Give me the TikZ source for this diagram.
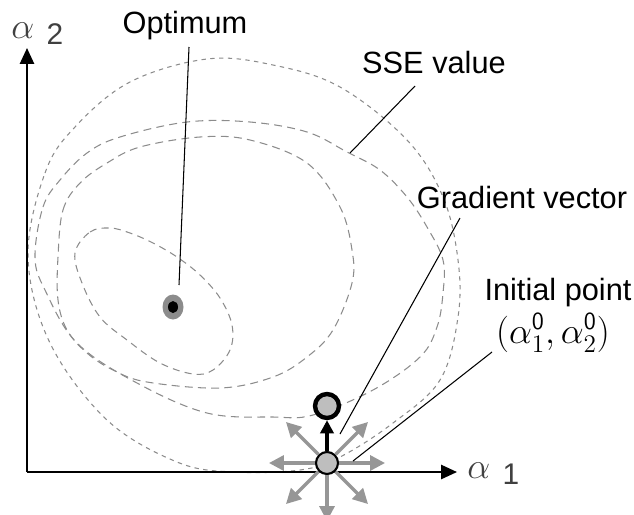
\documentclass[tikz,border=0pt]{standalone}
\usepackage{fontspec}
\setmainfont{Liberation Sans}
\usepackage{amsmath}
\usetikzlibrary{arrows.meta}
\definecolor{levelgray}{RGB}{140,140,140}
\definecolor{probegray}{RGB}{150,150,150}
\definecolor{pointgray}{RGB}{190,190,190}

\begin{document}
\begin{tikzpicture}[x=0.02cm, y=-0.02cm,
    lbl/.style={font=\fontsize{17.5}{20}\selectfont, inner sep=0pt},
    axislbl/.style={font=\fontsize{22}{24}\selectfont, inner sep=0pt, text=black!75},
    leader/.style={black, line width=0.6pt},
    level/.style={levelgray, line width=0.6pt},
    axis/.style={black, line width=1.2pt, -{Triangle[length=9pt,width=8pt]}},
    probe/.style={probegray, line width=1.9pt, -{Triangle[length=8.5pt,width=8.5pt]}},
    grad/.style={black, line width=2.6pt, -{Triangle[length=7.5pt,width=7.5pt]}},
    pointnode/.style={circle, fill=pointgray, draw=black, inner sep=0pt}
]
    \useasboundingbox (0,0) rectangle (634,514);

    % SSE level curves
    \draw[level, dash pattern=on 2.5pt off 2.5pt] plot[smooth cycle, tension=0.6] coordinates {
        (28,257) (45,173) (75,127) (130,82) (207,59) (273,65) (340,87) (407,140)
        (443,197) (458,260) (458,317) (440,380) (393,423) (340,457) (300,470)
        (233,472) (177,462) (107,420) (50,343)};
    \draw[level, dash pattern=on 4.5pt off 3pt] plot[smooth cycle, tension=0.6] coordinates {
        (35,257) (43,207) (60,180) (87,153) (120,137) (187,122) (250,122) (307,132)
        (347,152) (380,170) (407,197) (427,227) (443,260) (443,293) (437,327)
        (420,357) (373,390) (313,415) (273,417) (207,413) (137,383) (77,343) (45,290)};
    \draw[level, dash pattern=on 4.5pt off 3pt] plot[smooth cycle, tension=0.6] coordinates {
        (58,257) (63,210) (80,183) (107,163) (140,147) (200,137) (250,140) (307,163)
        (340,207) (352,250) (352,283) (333,330) (307,357) (273,377) (220,388)
        (147,382) (113,370) (87,353) (67,330) (58,300)};
    \draw[level, dash pattern=on 4pt off 3pt] plot[smooth cycle, tension=0.6] coordinates {
        (75,253) (90,232) (110,228) (130,233) (153,243) (177,257) (200,275) (220,298)
        (232,325) (230,350) (213,370) (193,374) (160,363) (127,340) (100,317) (82,283)};

    % Axes
    \coordinate (orig) at (27,472);
    \coordinate (xend) at (457,472);
    \coordinate (yend) at (27,48);
    \draw[axis] (orig) -- (xend);
    \draw[axis] (orig) -- (yend);
    \node[axislbl, anchor=base west] (xlbl) at (467,478) {$\alpha$\hspace{7pt}\raisebox{-3.5pt}{\fontsize{17}{18}\selectfont 1}};
    \node[axislbl, anchor=base west] (ylbl) at (11,38) {$\alpha$\hspace{7pt}\raisebox{-3.5pt}{\fontsize{17}{18}\selectfont 2}};

    % Optimum
    \fill[levelgray] (173,307) ellipse (0.21cm and 0.25cm);
    \fill[black] (173,307) ellipse (0.1cm and 0.12cm);
    \coordinate (opt) at (179,285);

    % Initial point, probe directions and gradient step
    \node[pointnode, line width=1.2pt, minimum size=0.44cm] (init) at (327,463) {};
    \node[pointnode, line width=2.5pt, minimum size=0.48cm] (next) at (327,406) {};
    \foreach \a in {0,45,135,180,225,270,315}
        \draw[probe] (init.\a) -- ++(\a:0.92cm);
    \draw[grad] (init.north) -- (next.south);

    % Labels and leader lines
    \node[lbl, anchor=base] (optlbl) at (185,33) {Optimum};
    \node[lbl, anchor=base] (ssel) at (434,73) {SSE value};
    \node[lbl, anchor=base] (gradl) at (522,208) {Gradient vector};
    \node[lbl, anchor=base] (initl) at (558,300) {Initial point};
    \node[anchor=base, inner sep=0pt, font=\fontsize{20}{24}\selectfont] (initc) at (553,343)
        {$(\alpha_1^{\mathsf{0}},\alpha_2^{\mathsf{0}})$};

    \coordinate (optA) at (189,47);
    \coordinate (sseA) at (415,86);
    \coordinate (sseB) at (350,153);
    \coordinate (gradA) at (460,218);
    \coordinate (gradB) at (340,434);
    \coordinate (initA) at (492,352);
    \coordinate (initB) at (353,461);
    \draw[leader] (optA) -- (opt);
    \draw[leader] (sseA) -- (sseB);
    \draw[leader] (gradA) -- (gradB);
    \draw[leader] (initA) -- (initB);
\end{tikzpicture}
\end{document}
